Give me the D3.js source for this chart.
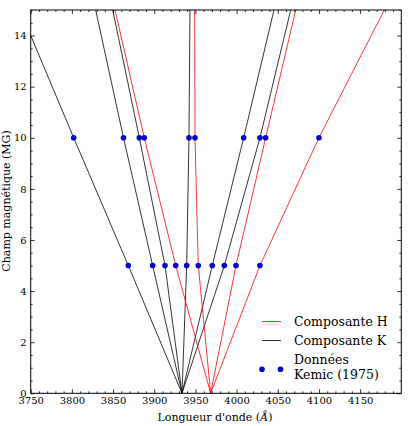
<!DOCTYPE html>
<html>
<head>
<meta charset="utf-8">
<script src="https://cdn.jsdelivr.net/npm/d3@7"></script>
<style>
  body { margin: 0; background: #fff; }
  svg { display: block; font-family: "DejaVu Serif", serif; }
</style>
</head>
<body>
<svg id="chart" width="408" height="426"></svg>
<script>
const width = 408;
const height = 426;
const margin = { top: 10, right: 6.7, bottom: 32.7, left: 30.7 };

// Field strengths (MG) at which each component is given
const fieldLevels = [0, 5, 10, 15];

// Wavelength (Å) of each K component at B = 0, 5, 10, 15 MG
const kComponents = [
  [3933.7, 3868.5, 3802.2, 3737.0],
  [3933.7, 3898.1, 3862.7, 3828.9],
  [3933.7, 3913.1, 3881.9, 3849.6],
  [3933.7, 3939.4, 3942.2, 3943.4],
  [3933.7, 3970.5, 4008.6, 4045.4],
  [3933.7, 3985.1, 4028.4, 4065.7]
];

// Wavelength (Å) of each H component at B = 0, 5, 10, 15 MG
const hComponents = [
  [3968.5, 3926.1, 3887.9, 3852.4],
  [3968.5, 3953.5, 3949.5, 3949.1],
  [3968.5, 3999.3, 4035.3, 4071.8],
  [3968.5, 4028.4, 4100.0, 4179.3]
];

// Kemic (1975) data points
const kemicB5 = [3868.5, 3898.1, 3913.1, 3926.1, 3939.4, 3953.5, 3970.5, 3985.1, 3999.3, 4028.4];
const kemicB10 = [3802.2, 3862.7, 3881.9, 3887.9, 3942.2, 3949.5, 4008.6, 4028.4, 4035.3, 4100.0];

const xTicks = [3750, 3800, 3850, 3900, 3950, 4000, 4050, 4100, 4150];
const yTicks = [0, 2, 4, 6, 8, 10, 12, 14];

const svg = d3.select("#chart");

const x = d3.scaleLinear().domain([3750, 4200]).range([margin.left, width - margin.right]);
const y = d3.scaleLinear().domain([0, 15]).range([height - margin.bottom, margin.top]);

svg.append("clipPath")
    .attr("id", "plot-clip")
  .append("rect")
    .attr("x", margin.left)
    .attr("y", margin.top)
    .attr("width", width - margin.left - margin.right)
    .attr("height", height - margin.top - margin.bottom);

const plot = svg.append("g").attr("clip-path", "url(#plot-clip)");

const line = d3.line()
    .x(d => x(d[1]))
    .y(d => y(d[0]));

const toPoints = comp => comp.map((lam, i) => [fieldLevels[i], lam]);

plot.selectAll(".k-line")
    .data(kComponents)
    .join("path")
    .attr("class", "k-line")
    .attr("d", d => line(toPoints(d)))
    .attr("fill", "none")
    .attr("stroke", "#000")
    .attr("stroke-width", 0.8);

plot.selectAll(".h-line")
    .data(hComponents)
    .join("path")
    .attr("class", "h-line")
    .attr("d", d => line(toPoints(d)))
    .attr("fill", "none")
    .attr("stroke", "#ff0000")
    .attr("stroke-width", 0.8);

const kemic = kemicB5.map(l => [5, l]).concat(kemicB10.map(l => [10, l]));

plot.selectAll(".dot")
    .data(kemic)
    .join("circle")
    .attr("class", "dot")
    .attr("cx", d => x(d[1]))
    .attr("cy", d => y(d[0]))
    .attr("r", 2.8)
    .attr("fill", "#0000cc");

// Axes: ticks point inward on all four sides, with minor ticks
const xMinor = d3.range(3750, 4201, 10).filter(v => v % 50 !== 0);
const yMinor = d3.range(0, 15.01, 0.5).filter(v => v % 2 !== 0);

function styleAxis(g) {
  g.select(".domain").remove();
  g.selectAll(".tick line").attr("stroke", "#000").attr("stroke-width", 0.8);
  g.selectAll(".tick text").attr("fill", "#000").attr("font-size", 10)
    .attr("font-family", "DejaVu Serif, serif");
}

const bottom = height - margin.bottom;
const right = width - margin.right;

svg.append("g").attr("transform", `translate(0,${bottom})`)
    .call(d3.axisBottom(x).tickValues(xTicks).tickSize(-4).tickPadding(4).tickFormat(d3.format("d")))
    .call(styleAxis);
svg.append("g").attr("transform", `translate(0,${bottom})`)
    .call(d3.axisBottom(x).tickValues(xMinor).tickSize(-2).tickFormat(""))
    .call(styleAxis);
svg.append("g").attr("transform", `translate(0,${margin.top})`)
    .call(d3.axisTop(x).tickValues(xTicks).tickSize(-4).tickFormat(""))
    .call(styleAxis);
svg.append("g").attr("transform", `translate(0,${margin.top})`)
    .call(d3.axisTop(x).tickValues(xMinor).tickSize(-2).tickFormat(""))
    .call(styleAxis);

svg.append("g").attr("transform", `translate(${margin.left},0)`)
    .call(d3.axisLeft(y).tickValues(yTicks).tickSize(-4).tickPadding(4))
    .call(styleAxis);
svg.append("g").attr("transform", `translate(${margin.left},0)`)
    .call(d3.axisLeft(y).tickValues(yMinor).tickSize(-2).tickFormat(""))
    .call(styleAxis);
svg.append("g").attr("transform", `translate(${right},0)`)
    .call(d3.axisRight(y).tickValues(yTicks).tickSize(-4).tickFormat(""))
    .call(styleAxis);
svg.append("g").attr("transform", `translate(${right},0)`)
    .call(d3.axisRight(y).tickValues(yMinor).tickSize(-2).tickFormat(""))
    .call(styleAxis);

// Frame
svg.append("rect")
    .attr("x", margin.left)
    .attr("y", margin.top)
    .attr("width", right - margin.left)
    .attr("height", bottom - margin.top)
    .attr("fill", "none")
    .attr("stroke", "#000")
    .attr("stroke-width", 1);

// Axis labels
const xLabel = svg.append("text")
    .attr("x", 215)
    .attr("y", 421)
    .attr("text-anchor", "middle")
    .attr("font-size", 11)
    .attr("fill", "#000");
xLabel.append("tspan").text("Longueur d'onde (");
xLabel.append("tspan").attr("font-style", "italic").text("Å");
xLabel.append("tspan").text(")");

svg.append("text")
    .attr("transform", "translate(10,201) rotate(-90)")
    .attr("text-anchor", "middle")
    .attr("font-size", 11)
    .attr("fill", "#000")
    .text("Champ magnétique (MG)");

// Legend
const legend = svg.append("g").attr("font-size", 12.5).attr("fill", "#000");

legend.append("line")
    .attr("x1", 262).attr("x2", 281).attr("y1", 321.5).attr("y2", 321.5)
    .attr("stroke", "#ff0000").attr("stroke-width", 0.8);
legend.append("text").attr("x", 294).attr("y", 326).text("Composante H");

legend.append("line")
    .attr("x1", 262).attr("x2", 281).attr("y1", 340.5).attr("y2", 340.5)
    .attr("stroke", "#000").attr("stroke-width", 0.8);
legend.append("text").attr("x", 294).attr("y", 345).text("Composante K");

legend.selectAll(".legend-dot")
    .data([262, 280.5])
    .join("circle")
    .attr("class", "legend-dot")
    .attr("cx", d => d)
    .attr("cy", 369.3)
    .attr("r", 2.8)
    .attr("fill", "#0000cc");
legend.append("text").attr("x", 294).attr("y", 364).text("Données");
legend.append("text").attr("x", 294).attr("y", 378.5).text("Kemic (1975)");
</script>
</body>
</html>
